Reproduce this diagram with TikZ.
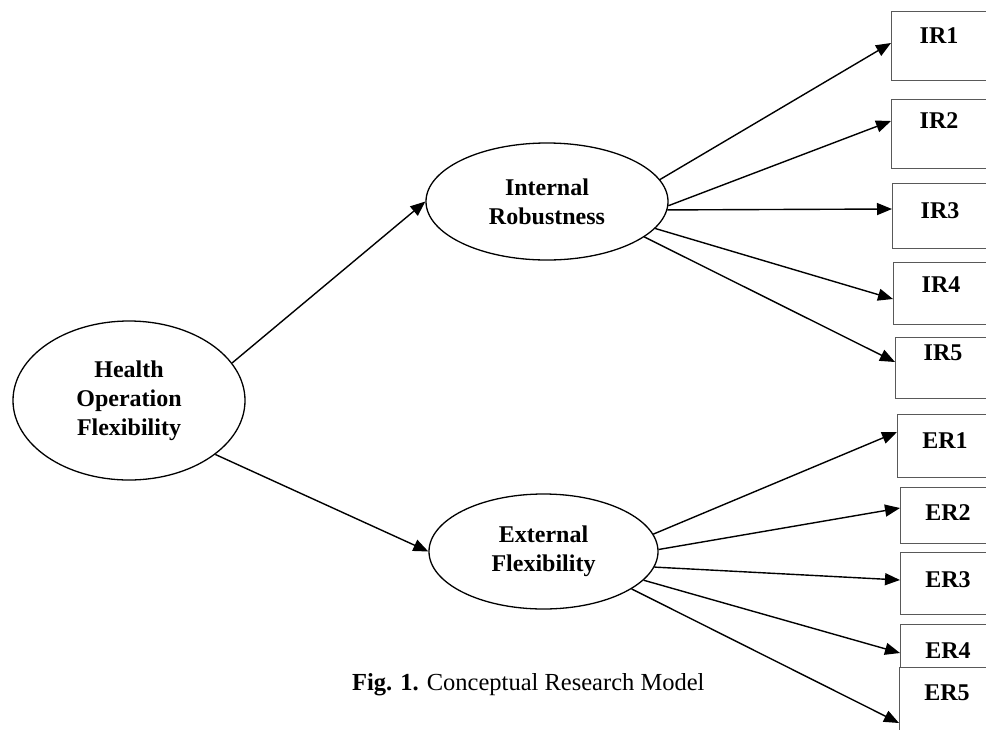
\documentclass[tikz,border=0pt]{standalone}
\usepackage{fontspec}
\setmainfont{Liberation Serif}
\usetikzlibrary{arrows.meta,shapes.geometric}
\definecolor{BoxClr}{rgb}{0.35,0.35,0.35}

\begin{document}
\begin{tikzpicture}[x=1pt,y=-1pt,
  lat/.style={draw,ellipse,line width=1.3pt,inner sep=0pt,align=center,
    font=\fontsize{24}{29}\selectfont\bfseries},
  ind/.style={draw=BoxClr,fill=white,line width=1pt,rectangle,anchor=north west,
    inner sep=0pt,outer sep=0pt,text width=96pt,align=center,
    font=\fontsize{24}{29}\selectfont\bfseries},
  conn/.style={line width=1.4pt,-{Triangle[length=15pt,width=12pt]}}]
\useasboundingbox (0,0) rectangle (986,729);
\clip (0,0) rectangle (986,729);

\node[lat,minimum width=232pt,minimum height=159pt] (hof) at (129,400.5) {Health\\Operation\\Flexibility};
\node[lat,minimum width=242pt,minimum height=117pt] (ir) at (547,201.5) {Internal\\Robustness};
\node[lat,minimum width=229pt,minimum height=115pt] (ef) at (543.5,551.5) {External\\Flexibility};

\node[ind,text height=32pt,text depth=37pt] (ir1) at (891,11) {IR1};
\node[ind,text height=29pt,text depth=40pt] (ir2) at (891,99) {IR2};
\node[ind,text height=35pt,text depth=30pt] (ir3) at (892,183) {IR3};
\node[ind,text height=30pt,text depth=32pt] (ir4) at (893,262) {IR4};
\node[ind,text height=23pt,text depth=38pt] (ir5) at (895,337) {IR5};
\node[ind,text height=34pt,text depth=29pt] (er1) at (897,414) {ER1};
\node[ind,text height=33pt,text depth=23pt] (er2) at (900,487) {ER2};
\node[ind,text height=35pt,text depth=27pt] (er3) at (900,552) {ER3};
\node[ind,text height=34pt,text depth=28pt] (er4) at (900,624) {ER4};
\node[ind,text height=33pt,text depth=80pt] (er5) at (899,667) {ER5};

\draw[conn] (hof.20) -- (ir.west);
\draw[conn] (hof.-32) -- (ef.west);

\foreach \b/\a/\d in {ir1/11/32,ir2/-2/22,ir3/-4/26,ir4/-14/37,ir5/-20/25}
  \draw[conn] (ir.\a) -- ([yshift=-\d pt]\b.north west);
\foreach \b/\a/\d in {er1/9/18,er2/1/21,er3/-8/28,er4/-16/29,er5/-23/56}
  \draw[conn] (ef.\a) -- ([yshift=-\d pt]\b.north west);

\node[anchor=base east,font=\fontsize{24.5}{29}\selectfont] (cap) at (708,690) {\textbf{Fig. 1.} Conceptual Research Model};

\end{tikzpicture}
\end{document}
